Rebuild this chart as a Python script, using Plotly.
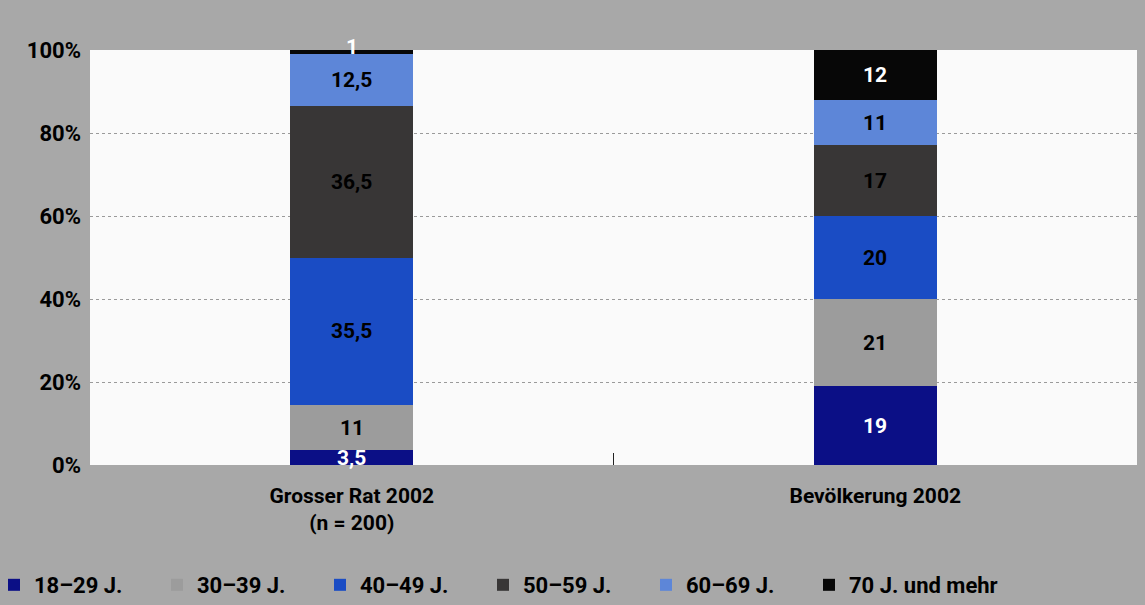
import plotly.graph_objects as go

categories = ["Grosser Rat 2002<br>(n = 200)", "Bevölkerung 2002"]
series_names = ["18–29 J.", "30–39 J.", "40–49 J.", "50–59 J.", "60–69 J.", "70 J. und mehr"]
v_18_29 = [3.5, 19]
v_30_39 = [11, 21]
v_40_49 = [35.5, 20]
v_50_59 = [36.5, 17]
v_60_69 = [12.5, 11]
v_70plus = [1, 12]
series_values = [v_18_29, v_30_39, v_40_49, v_50_59, v_60_69, v_70plus]
y_tick_values = [0, 20, 40, 60, 80, 100]
y_tick_labels = ["0%", "20%", "40%", "60%", "80%", "100%"]

colors = ["#0b0f86", "#9c9c9c", "#1a4cc4", "#383636", "#5d86d8", "#070707"]
label_colors = [["white", "white"], ["black", "black"], ["black", "black"],
                ["black", "black"], ["black", "black"], ["white", "white"]]
legend_ids = ["legend", "legend", "legend", "legend", "legend", "legend2"]

FONT = "Roboto, Liberation Sans Narrow, sans-serif"

fig = go.Figure()
for name, vals, col, lg in zip(series_names, series_values, colors, legend_ids):
    fig.add_trace(go.Bar(
        x=categories, y=vals, name=name, marker=dict(color=col, line=dict(width=0)),
        width=0.235, hoverinfo="skip", legend=lg,
    ))

def fmt(v):
    return ("%g" % v).replace(".", ",")

annotations = []
for ci, cat in enumerate(categories):
    base = 0
    for si, vals in enumerate(series_values):
        v = vals[ci]
        mid = base + v / 2
        annotations.append(dict(
            x=cat, y=mid, xref="x", yref="y", text=fmt(v), showarrow=False,
            font=dict(family=FONT, size=21, color=label_colors[si][ci], weight="bold"),
            yshift=5 if v < 3 else 0,
        ))
        base += v

legend_common = dict(
    orientation="h", xanchor="left", y=-0.2386, yanchor="top",
    traceorder="normal",
    font=dict(family=FONT, size=22, color="black", weight="bold"),
    bgcolor="rgba(0,0,0,0)", itemclick=False, itemdoubleclick=False,
)

fig.update_layout(
    barmode="stack",
    width=1145, height=605,
    margin=dict(l=90, r=8, t=50, b=140, autoexpand=False),
    paper_bgcolor="#a8a8a8",
    plot_bgcolor="#fafafa",
    font=dict(family=FONT, size=21, color="black", weight="bold"),
    annotations=annotations,
    showlegend=True,
    legend=dict(x=-0.0917, entrywidth=118, entrywidthmode="pixels", **legend_common),
    legend2=dict(x=0.6867, **legend_common),
    xaxis=dict(
        range=[-0.5, 1.5], showgrid=False, zeroline=False, showline=False,
        tickson="boundaries", ticks="inside", ticklen=12, tickcolor="#222", tickwidth=1,
        tickfont=dict(family=FONT, size=21, color="black", weight="bold"),
        ticklabelstandoff=16, automargin=False,
        fixedrange=True,
    ),
    yaxis=dict(
        range=[0, 100], tickvals=y_tick_values, ticktext=y_tick_labels,
        showgrid=True, gridcolor="#9a9a9a", griddash="dot", gridwidth=1,
        zeroline=False, showline=False, ticks="", ticklabelstandoff=8,
        tickfont=dict(family=FONT, size=22, color="black", weight="bold"),
        automargin=False, fixedrange=True,
    ),
)

fig.write_html(
    "out.html",
    config={"displayModeBar": False},
    post_script="document.body.style.margin='0';document.body.style.background='#a8a8a8';",
)
